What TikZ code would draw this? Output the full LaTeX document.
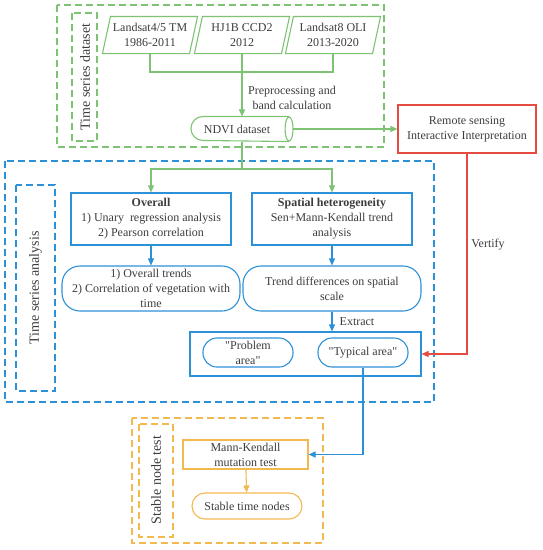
\documentclass[tikz,border=0pt]{standalone}
\usepackage{fontspec}
\setmainfont{Liberation Serif}
\usetikzlibrary{shapes.geometric,arrows.meta}
\definecolor{cg}{RGB}{125,195,115}
\definecolor{cb}{RGB}{45,145,215}
\definecolor{cr}{RGB}{230,75,65}
\definecolor{co}{RGB}{242,185,80}
\definecolor{ct}{RGB}{60,60,60}
\begin{document}
\begin{tikzpicture}[x=1pt,y=-1pt,
  font=\fontsize{12}{15}\selectfont, text=ct, line width=1.1pt,
  >={Triangle[length=7pt,width=6pt]},
  para/.style={minimum width=86pt,minimum height=36pt,inner sep=0pt,align=center},
  gdash/.style={draw=cg,dash pattern=on 7pt off 4pt},
  bdash/.style={draw=cb,dash pattern=on 7pt off 4pt},
  odash/.style={draw=co,dash pattern=on 7pt off 4pt},
  bbox/.style={draw=cb,rectangle,align=center,inner sep=0pt},
  bround/.style={draw=cb,rectangle,rounded corners=18pt,align=center,inner sep=0pt},
  lab/.style={align=center,inner sep=0pt},
  vlab/.style={inner sep=0pt,rotate=90,font=\fontsize{14}{16}\selectfont}]
\useasboundingbox (0,0) rectangle (543,550);
% dashed group boxes
\draw[gdash] (57,5) rectangle (384,147);
\draw[gdash] (72,13) rectangle (97,141);
\draw[bdash] (5,161) rectangle (434,402);
\draw[bdash] (16,185) rectangle (55,391);
\draw[odash] (132,418) rectangle (323,543);
\draw[odash] (139,424) rectangle (173,537);
\node[vlab] (tsd) at (85,77) {Time series dataset};
\node[vlab] (tsa) at (35.5,288) {Time series analysis};
\node[vlab] (snt) at (156,480) {Stable node test};
% inputs
\node[para] (p1) at (150,35) {Landsat4/5 TM\\1986-2011};
\node[para] (p2) at (242,35) {HJ1B CCD2\\2012};
\node[para] (p3) at (333,35) {Landsat8 OLI\\2013-2020};
\foreach \n in {p1,p2,p3}
  \draw[cg] ([xshift=-4pt]\n.south west) -- ([xshift=4pt]\n.north west)
    -- ([xshift=4pt]\n.north east) -- ([xshift=-4pt]\n.south east) -- cycle;
\node[minimum width=101pt,minimum height=24pt,inner sep=0pt] (ndvi) at (242,129)
  {\hspace*{-10pt}NDVI dataset};
\draw[cg] ([xshift=-4pt]ndvi.north east) -- ([xshift=12pt]ndvi.north west)
  arc[start angle=270,end angle=90,x radius=12,y radius=12]
  -- ([xshift=-4pt]ndvi.south east);
\draw[cg] ([xshift=-4pt]ndvi.east) ellipse[x radius=4,y radius=12];
\node[draw=cr,rectangle,minimum width=138pt,minimum height=48pt,align=center,inner sep=0pt]
  (rs) at (467,129) {Remote sensing\\Interactive Interpretation};
% analysis
\node[bbox,minimum width=160pt,minimum height=52pt] (ov) at (151,219)
  {\textbf{Overall}\\1) Unary\ \ regression analysis\\2) Pearson correlation};
\node[bbox,minimum width=160pt,minimum height=52pt] (sp) at (332,219)
  {\textbf{Spatial heterogeneity}\\Sen+Mann-Kendall trend\\analysis};
\node[bround,minimum width=178pt,minimum height=45pt] (r1) at (151,288.5)
  {1) Overall trends\\2) Correlation of vegetation with\\time};
\node[bround,minimum width=178pt,minimum height=45pt] (r2) at (332,288.5)
  {Trend differences on spatial\\scale};
\node[bbox,minimum width=231pt,minimum height=44pt] (ex) at (305.5,354) {};
\node[draw=cb,rounded corners=14pt,minimum width=90pt,minimum height=29pt,align=center,inner sep=0pt]
  (pa) at (248,352.5) {\textquotedbl Problem\\area\textquotedbl};
\node[draw=cb,rounded corners=14pt,minimum width=90pt,minimum height=29pt,align=center,inner sep=0pt]
  (ta) at (363,352.5) {\textquotedbl Typical area\textquotedbl};
% stable
\node[draw=co,rectangle,minimum width=125pt,minimum height=29pt,align=center,inner sep=0pt]
  (mk) at (245.5,454.5) {Mann-Kendall\\mutation test};
\node[draw=co,rounded corners=13pt,minimum width=110pt,minimum height=26pt,inner sep=0pt]
  (st) at (247,506) {Stable time nodes};
% labels
\node[lab] (lpre) at (292,97.5) {Preprocessing and\\band calculation};
\node[lab] (lver) at (488,245) {Vertify};
\node[lab] (lext) at (357,322) {Extract};
% connectors
\coordinate (jn) at (242,72);
\coordinate (js) at (242,169);
\draw[cg] (p1.south) |- (jn) -| (p3.south);
\draw[cg,->] (p2.south) -- (ndvi.north);
\draw[cg,->] (ndvi.east) -- (rs.west);
\draw[cg] (ndvi.south) -- (js);
\draw[cg,->] (js) -| (ov.north);
\draw[cg,->] (js) -| (sp.north);
\draw[cb,->] (ov) -- (r1);
\draw[cb,->] (sp) -- (r2);
\draw[cb,->] (r2.south) -- (r2.south |- ex.north);
\draw[cb,->] (ta.south) |- (mk.east);
\draw[cr,->] (rs.south) |- (ex.east);
\draw[co,->] (mk) -- (st);
\end{tikzpicture}
\end{document}
